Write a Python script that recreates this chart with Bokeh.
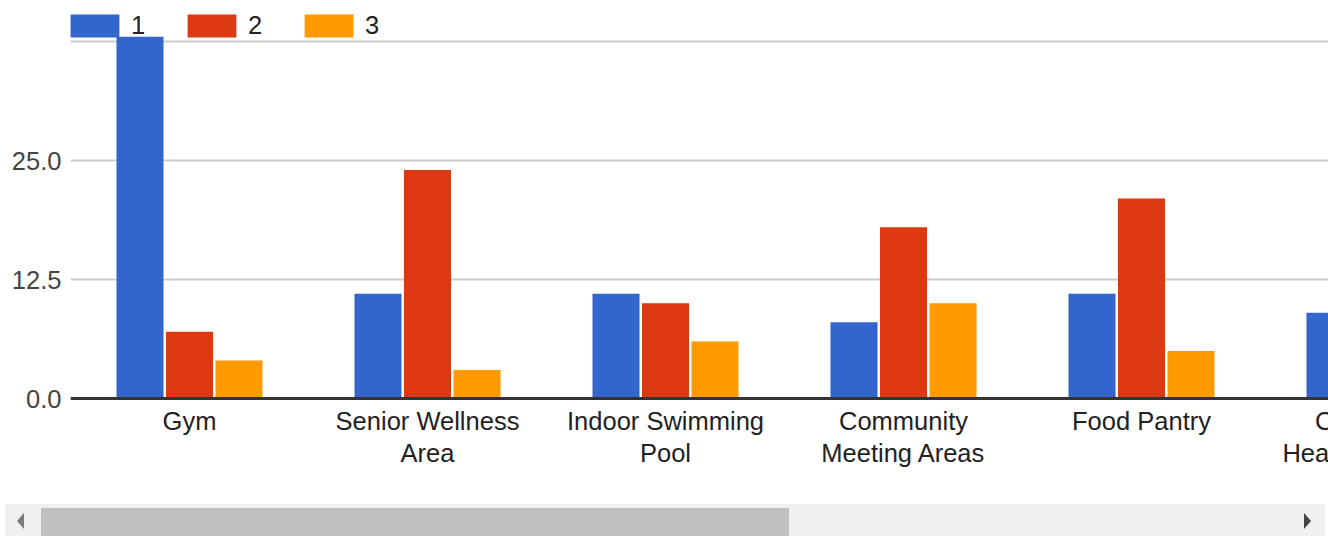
from bokeh.plotting import figure
from bokeh.models import (ColumnDataSource, Range1d, FixedTicker, CustomJSTickFormatter,
                          Legend, LegendItem, Span, Div)
from bokeh.core.properties import value
from bokeh.transform import dodge
from bokeh.layouts import column
from bokeh.embed import file_html
from bokeh.resources import INLINE

# ---- data ----
categories = ["Gym", "Senior Wellness\nArea", "Indoor Swimming\nPool",
              "Community\nMeeting Areas", "Food Pantry", "Community\nHealth Education"]
series_names = ["1", "2", "3"]
series1 = [38, 11, 11, 8, 11, 9]
series2 = [7, 24, 10, 18, 21, 12]
series3 = [4, 3, 6, 10, 5, 6]
y_ticks = [0, 12.5, 25, 37.5]

colors = ["#3366cc", "#dc3912", "#ff9900"]
FONT = "Liberation Sans"
FSIZE = "25.5px"

src = ColumnDataSource(dict(x=list(range(len(categories))), label=categories,
                            s1=series1, s2=series2, s3=series3))

W = 1328
FRAME_LEFT = 70
FRAME_TOP = 14
PLOT_H = 384          # px from top of frame to the zero line
BELOW_H = 106         # px from zero line to bottom of the figure (category labels)
H1 = FRAME_TOP + PLOT_H + BELOW_H
band_px = 238.0
px_per_unit = 9.52

x_end = -0.5 + (W - FRAME_LEFT) / band_px
y_start = -BELOW_H / px_per_unit
y_end = PLOT_H / px_per_unit

p = figure(width=W, height=H1, output_backend="svg", toolbar_location=None,
           x_range=Range1d(-0.5, x_end), y_range=Range1d(y_start, y_end),
           min_border_left=FRAME_LEFT, min_border_right=0, min_border_top=FRAME_TOP,
           min_border_bottom=0)
p.outline_line_color = None
p.background_fill_color = "white"

bw = 47 / band_px
off = 49.5 / band_px
rs = []
for i, (col, c) in enumerate(zip(["s1", "s2", "s3"], colors)):
    r = p.vbar(x=dodge("x", (i - 1) * off, range=p.x_range), top=col, bottom=0, width=bw,
               source=src, fill_color=c, line_color=None)
    rs.append(r)

# category labels under the zero line (the last category is scrolled partly out of view)
p.text(x="x", y=-8 / px_per_unit, text="label", source=src, text_align="center",
       text_baseline="top", text_font=value(FONT), text_font_size=FSIZE,
       text_color="#222222", text_line_height=1.15)

p.xaxis.visible = False

p.yaxis.ticker = FixedTicker(ticks=y_ticks)
p.yaxis.formatter = CustomJSTickFormatter(code="return tick == 37.5 ? '' : tick.toFixed(1);")
p.yaxis.axis_line_color = None
p.yaxis.major_tick_line_color = None
p.yaxis.minor_tick_line_color = None
p.yaxis.major_label_text_font = FONT
p.yaxis.major_label_text_font_size = FSIZE
p.yaxis.major_label_text_color = "#444444"
p.yaxis.major_label_standoff = 3

p.xgrid.grid_line_color = None
p.ygrid.grid_line_color = "#cccccc"
p.ygrid.grid_line_width = 2

p.add_layout(Span(location=0, dimension="width", line_color="#333333", line_width=3))

legend = Legend(items=[LegendItem(label=n, renderers=[r]) for n, r in zip(series_names, rs)],
                location=(-6, PLOT_H + BELOW_H - 26), orientation="horizontal",
                glyph_width=61, glyph_height=29, label_standoff=6, spacing=30,
                padding=0, margin=0, border_line_color=None, background_fill_alpha=0,
                label_text_font=FONT, label_text_font_size=FSIZE, label_text_color="#222222",
                label_height=29)
p.add_layout(legend)

# ---- horizontal scrollbar strip (decoration) ----
H2 = 32
strip_html = (
    '<div style="position:relative;width:1328px;height:32px;background:#ffffff;overflow:hidden;">'
    '<div style="position:absolute;left:5px;top:0px;width:1320px;height:32px;background:#f0f0f0;"></div>'
    '<div style="position:absolute;left:41px;top:4px;width:748px;height:28px;background:#c0c0c0;"></div>'
    '<div style="position:absolute;left:17px;top:9px;width:0;height:0;border-top:8px solid transparent;'
    'border-bottom:8px solid transparent;border-right:7px solid #7a7a7a;"></div>'
    '<div style="position:absolute;left:1304px;top:9px;width:0;height:0;border-top:8px solid transparent;'
    'border-bottom:8px solid transparent;border-left:7px solid #444444;"></div>'
    '</div>'
)
s = Div(text=strip_html, width=W, height=H2, margin=0)

layout = column(p, s, spacing=0)
open("out.html", "w").write(file_html(layout, INLINE))
